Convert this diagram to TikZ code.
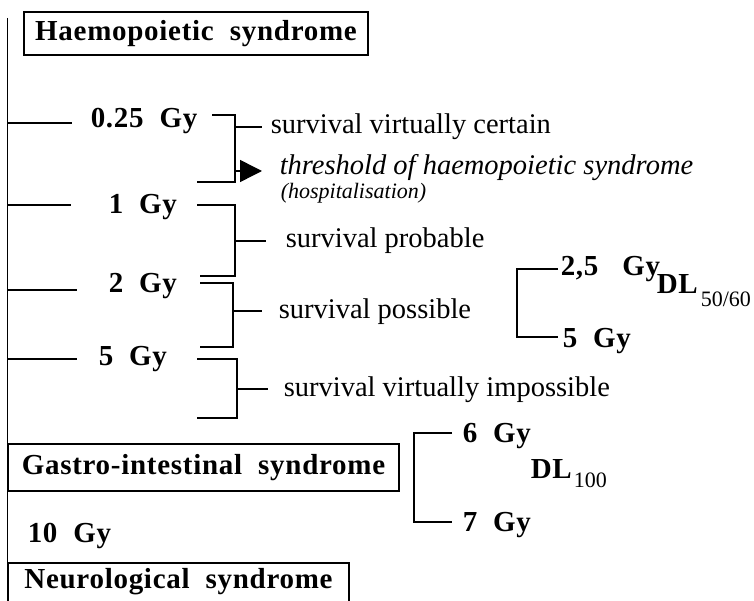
\documentclass[tikz,border=0pt]{standalone}
\usepackage{fontspec}
\setmainfont{Liberation Serif}[BoldFeatures={LetterSpace=2.5}]
\usetikzlibrary{positioning,arrows.meta}

\begin{document}
\begin{tikzpicture}[
	x=1pt, y=-1pt, line width=1.5pt,
	box/.style={draw, font=\fontsize{29}{31}\selectfont\bfseries, text height=20pt, text depth=6pt, inner xsep=0pt, inner ysep=0pt},
	dose/.style={font=\fontsize{29}{31}\selectfont\bfseries, anchor=base west, inner sep=0pt},
	effect/.style={font=\fontsize{28.5}{30}\selectfont, anchor=base west, inner xsep=8pt, inner ysep=0pt, text height=20pt, text depth=6pt},
	note/.style={font=\fontsize{22}{24}\selectfont\itshape, anchor=base west, inner sep=0pt},
	sub/.style={font=\fontsize{22}{24}\selectfont, anchor=base west, inner sep=0pt}
	]
	\useasboundingbox (0,0) rectangle (754,601);

	\coordinate (top) at (7.5,18);
	\coordinate (bottom) at (7.5,601);
	\draw (top) -- (bottom);

		\node (haemo) [box, minimum width=344pt, minimum height=43pt] at (196,33.5) {Haemopoietic~~syndrome};
		\node (gastro) [box, minimum width=390.5pt, minimum height=47pt, anchor=west] at (7.5,467.5) {Gastro-intestinal~~syndrome};
		\node (neuro) [box, minimum width=340.5pt, text height=23pt, text depth=45pt, inner ysep=3pt, anchor=north west] at (7.5,562) {Neurological~~syndrome};

			\node (d025) [dose] at (90,128) {0.25~~Gy};
			\node (d1) [dose] at (108,214) {1~~Gy};
			\node (d2) [dose] at (108,293) {2~~Gy};
			\node (d5) [dose] at (98,365) {5~~Gy};
			\node (d10) [dose] at (27,542) {10~~Gy};

			\node (certain) [effect] at (262,134) {survival virtually certain};
			\node (threshold) [effect, inner xsep=17pt, text height=12pt, text depth=4pt, font=\fontsize{28.5}{30}\selectfont\itshape] at (262,175) {threshold of haemopoietic syndrome};
			\node (hosp) [note] at (280,199) {(hospitalisation)};
			\node (probable) [effect, inner xsep=19pt] at (266,248) {survival probable};
			\node (possible) [effect, inner xsep=16pt] at (262,318) {survival possible};
			\node (impossible) [effect, inner xsep=15pt] at (268,396) {survival virtually impossible};

				\node (d25b) [dose] at (560,276) {2,5~~~Gy};
				\node (d5b) [dose] at (562,347) {5~~Gy};
				\node (dl50) [dose] at (656,294) {DL};
				\node (sub50) [sub] at (700,306) {50/60};

				\node (d6) [dose] at (462,442) {6~~Gy};
				\node (d7) [dose] at (462,531) {7~~Gy};
				\node (dl100) [dose] at (530,478) {DL};
				\node (sub100) [sub] at (573,487) {100};

	\draw (top |- 0,123) -- ++(64,0);
	\draw (top |- 0,205) -- ++(63,0);
	\draw (top |- 0,290) -- ++(69,0);
	\draw (top |- 0,359) -- ++(69,0);

	\draw (212,115) -| (235,182) -- (197,182);
	\draw (235,0 |- certain.west) -- (certain.west);
	\draw [-{Triangle[length=22pt,width=22pt]}] (235,0 |- threshold.west) -- (threshold.west);

	\draw (197,205) -| (235,276) -- (200,276);
	\draw (235,0 |- probable.west) -- (probable.west);

	\draw (200,283) -| (233,347) -- (200,347);
	\draw (233,0 |- possible.west) -- (possible.west);

	\draw (197,359) -| (237,418) -- (197,418);
	\draw (237,0 |- impossible.west) -- (impossible.west);

	\draw (558,269) -| (517,337) -- (558,337);
	\draw (452,433) -| (414,522) -- (452,522);

\end{tikzpicture}
\end{document}
